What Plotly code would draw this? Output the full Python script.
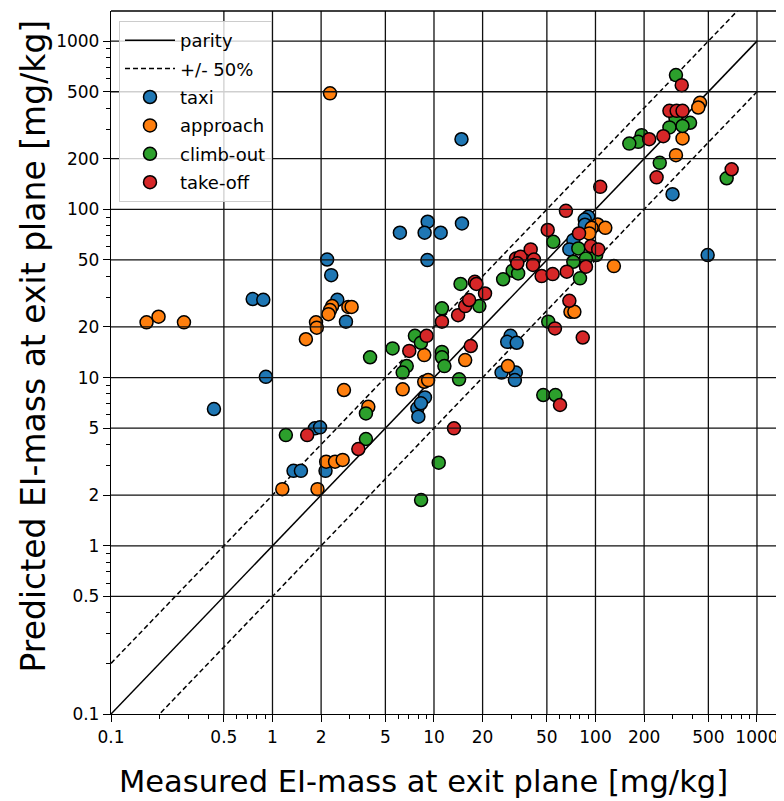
import numpy as np
import plotly.graph_objects as go

# ---- data (measured, predicted) ----
taxi_x = [0.434, 0.754, 0.877, 0.91, 2.18, 2.31, 2.52, 2.85, 14.8, 6.15, 9.14, 8.75, 11.0, 14.9, 9.1,
          90.2, 85.8, 86.0, 72.9, 68.9, 300, 495, 29.8, 28.4, 32.5, 26.2, 32.1, 31.7,
          1.83, 1.97, 1.35, 1.50, 2.13, 7.89, 8.0, 8.79, 8.3]
taxi_y = [6.5, 29.3, 29.0, 10.1, 50.3, 40.6, 29.0, 21.5, 261, 72.6, 84.4, 72.6, 72.6, 82.4, 49.9,
          90.3, 87.0, 81.0, 65.6, 57.8, 123, 53.5, 17.7, 16.3, 16.1, 10.7, 10.7, 9.66,
          4.99, 5.06, 2.79, 2.79, 2.79, 6.56, 5.85, 7.62, 7.03]

approach_x = [0.166, 0.197, 0.283, 2.27, 2.34, 2.27, 2.22, 1.86, 1.88, 1.61, 2.95, 3.09, 2.77, 3.92,
              1.15, 1.9, 2.15, 2.44, 2.72, 8.7, 6.4, 8.7, 9.2, 15.6, 28.7, 70.0, 74.0,
              103, 115, 94.6, 91.5, 130, 444, 433, 346, 315]
approach_y = [21.3, 23.0, 21.3, 489, 26.6, 25.2, 23.8, 21.3, 19.8, 16.9, 26.3, 26.3, 8.43, 6.7,
              2.17, 2.17, 3.16, 3.16, 3.24, 13.6, 8.51, 9.44, 9.66, 12.7, 11.7, 24.6, 24.6,
              81.3, 77.6, 77.6, 71.9, 46.0, 430, 403, 264, 210]

climb_x = [1.21, 3.79, 10.7, 8.32, 3.79, 4.02, 5.54, 7.62, 8.3, 6.78, 6.4, 11.2, 11.2, 11.2, 11.6,
           14.3, 19.1, 14.6, 30.7, 33.2, 26.8, 51.0, 47.5, 56.5, 54.8, 78.3, 101, 87.3, 72.9,
           80.2, 315, 313, 385, 346, 287, 193, 184, 162, 250, 649]
climb_y = [4.55, 4.31, 3.12, 1.87, 6.12, 13.2, 14.9, 17.7, 16.1, 11.7, 10.7, 25.8, 14.2, 13.2, 11.7,
           9.76, 26.6, 36.0, 43.2, 41.6, 38.4, 21.5, 7.87, 7.87, 64.1, 58.6, 53.5, 51.0, 48.8,
           38.9, 628, 347, 327, 313, 307, 276, 252, 246, 189, 153]

takeoff_x = [1.64, 3.40, 13.3, 7.03, 9.0, 11.2, 14.1, 15.6, 16.9, 16.5, 17.9, 18.3, 20.7, 32.2,
             34.4, 32.8, 39.7, 41.6, 41.0, 46.4, 54.3, 66.4, 50.6, 65.6, 79.1, 93.7, 104, 87.3,
             68.9, 56.1, 83.4, 60.3, 107, 342, 287, 318, 346, 263, 215, 239, 697]
takeoff_y = [4.55, 3.76, 4.99, 14.4, 17.7, 21.5, 23.5, 26.6, 15.4, 28.9, 37.1, 36.0, 31.6, 51.0,
             52.3, 47.8, 57.8, 50.3, 46.7, 40.1, 41.2, 42.6, 75.4, 98.0, 71.9, 60.5, 57.8, 45.6,
             28.6, 19.6, 17.3, 6.87, 136, 547, 385, 385, 385, 272, 261, 155, 173]

series = [("taxi", taxi_x, taxi_y, "#1f77b4"),
          ("approach", approach_x, approach_y, "#ff7f0e"),
          ("climb-out", climb_x, climb_y, "#2ca02c"),
          ("take-off", takeoff_x, takeoff_y, "#d62728")]

line_x = [0.1, 1000]
tick_vals = [0.1, 0.5, 1, 2, 5, 10, 20, 50, 100, 200, 500, 1000]
tick_text = ["0.1", "0.5", "1", "2", "5", "10", "20", "50", "100", "200", "500", "1000"]
x_title = "Measured EI-mass at exit plane [mg/kg]"
y_title = "Predicted EI-mass at exit plane [mg/kg]"

FONT = "DejaVu Sans"

fig = go.Figure()
fig.add_trace(go.Scatter(x=line_x, y=[v for v in line_x], mode="lines", name="parity",
                         line=dict(color="black", width=1.5), legendgroup="a"))
fig.add_trace(go.Scatter(x=line_x, y=[2 * v for v in line_x], mode="lines", name="+/- 50%",
                         line=dict(color="black", width=1.5, dash="5px,3px"), legendgroup="b"))
fig.add_trace(go.Scatter(x=line_x, y=[0.5 * v for v in line_x], mode="lines", showlegend=False,
                         line=dict(color="black", width=1.5, dash="5px,3px"), legendgroup="b"))
for i, (name, xs, ys, col) in enumerate(series):
    fig.add_trace(go.Scatter(x=xs, y=ys, mode="markers", name=name, legendgroup="g%d" % i,
                             marker=dict(size=13, color=col, line=dict(color="black", width=1.5))))

# minor ticks
minor_vals = []
for e in range(-1, 4):
    for k in range(2, 10):
        v = k * 10 ** e
        if v not in tick_vals and v < 1500:
            minor_vals.append(v)

# grid lines drawn above the markers, like the reference
shapes = []
for v in tick_vals[1:]:
    shapes.append(dict(type="line", xref="x", yref="paper", x0=v, x1=v, y0=0, y1=1,
                       layer="above", line=dict(color="#111", width=1.3)))
    shapes.append(dict(type="line", xref="paper", yref="y", x0=0, x1=1, y0=v, y1=v,
                       layer="above", line=dict(color="#111", width=1.3)))
shapes.append(dict(type="line", xref="paper", yref="paper", x0=0, x1=1, y0=1, y1=1,
                   layer="above", line=dict(color="black", width=1.3)))

axis_common = dict(type="log", tickmode="array", tickvals=tick_vals, ticktext=tick_text,
                   ticks="outside", ticklen=7, tickwidth=1.2, tickcolor="black",
                   showgrid=False, zeroline=False, showline=True, linecolor="black", linewidth=1.3,
                   automargin=False,
                   tickfont=dict(family=FONT, size=17, color="black"),
                   minor=dict(tickmode="array", tickvals=minor_vals, ticks="outside", ticklen=4,
                              tickwidth=1, tickcolor="black", showgrid=False))

# the page shows the figure offset by the default 8px body margin; compensate
OFF = 8
L, T, B, R = 111 - OFF, 11 - OFF, 87 + OFF, OFF
PW, PH = 784 - L - R, 801 - T - B

fig.update_layout(
    width=784, height=801,
    margin=dict(l=L, r=R, t=T, b=B, autoexpand=False),
    plot_bgcolor="white", paper_bgcolor="white",
    shapes=shapes,
    showlegend=True,
    legend=dict(x=8 / PW, y=1 - 10 / PH, xanchor="left", yanchor="top",
                bgcolor="rgba(255,255,255,0.8)", bordercolor="#cccccc", borderwidth=1,
                font=dict(family=FONT, size=18, color="black"),
                itemwidth=50,
                traceorder="grouped", tracegroupgap=2),
    xaxis=dict(axis_common, range=[-1, np.log10(1470)]),
    yaxis=dict(axis_common, range=[-1, np.log10(1510)]),
    annotations=[
        dict(text=x_title, xref="paper", yref="paper", x=(423.5 - 111) / PW, y=-(781 - 714) / PH,
             xanchor="center", yanchor="middle", showarrow=False,
             font=dict(family=FONT, size=30.5, color="black")),
        dict(text=y_title, xref="paper", yref="paper", x=(33 - 111) / PW, y=(714 - 346.5) / PH,
             xanchor="center", yanchor="middle", showarrow=False, textangle=-90,
             font=dict(family=FONT, size=33, color="black")),
    ],
)

fig.write_html("out.html")
